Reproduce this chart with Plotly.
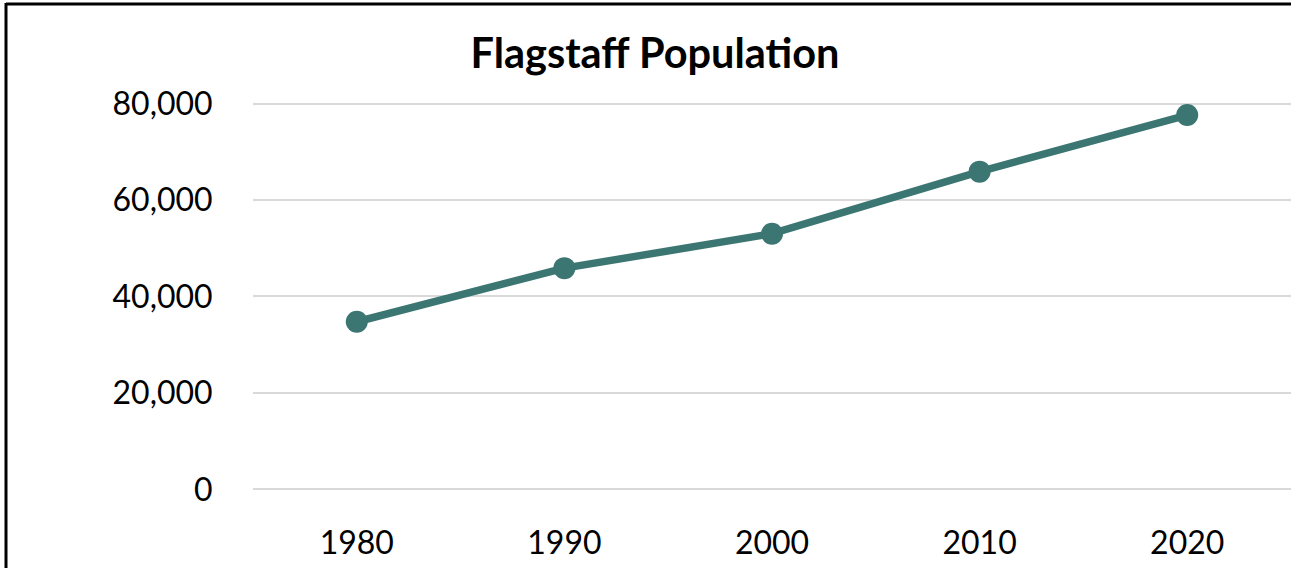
import plotly.graph_objects as go

# Flagstaff, AZ census population by decade
years = ["1980", "1990", "2000", "2010", "2020"]
population = [34743, 45857, 53000, 65870, 77600]
y_ticks = [0, 20000, 40000, 60000, 80000]
y_tick_labels = ["0", "20,000", "40,000", "60,000", "80,000"]

W, H = 1291, 568
ML, MR, MT, MB = 253, 0, 100, 75
pw = W - ML - MR
ph = H - MT - MB

line_color = "#3c7672"
font_family = "Lato, 'Open Sans', sans-serif"

fig = go.Figure(
    go.Scatter(
        x=years,
        y=population,
        mode="lines+markers",
        line=dict(color=line_color, width=7.5),
        marker=dict(color=line_color, size=22),
        cliponaxis=False,
        hoverinfo="x+y",
    )
)

# chart frame: left and top edges
fx = lambda px: (px - ML) / pw
fy = lambda py: (H - MB - py) / ph
fig.add_shape(type="line", xref="paper", yref="paper",
              x0=fx(6), x1=fx(6), y0=fy(3), y1=fy(H + 5),
              line=dict(color="black", width=3))
fig.add_shape(type="line", xref="paper", yref="paper",
              x0=fx(6), x1=fx(W + 5), y0=fy(4), y1=fy(4),
              line=dict(color="black", width=3))

per_px = 80000 / (489.3 - 103.5)
y_lo = -(H - MB - 489.3) * per_px
y_hi = 80000 + (103.5 - MT) * per_px

fig.update_layout(
    width=W,
    height=H,
    margin=dict(l=ML, r=MR, t=MT, b=MB),
    paper_bgcolor="white",
    plot_bgcolor="white",
    showlegend=False,
    font=dict(family=font_family, color="black", size=32),
    title=dict(
        text="<b>Flagstaff Population</b>",
        x=655 / W, xref="container", xanchor="center",
        y=1 - 53 / H, yref="container", yanchor="middle",
        font=dict(family=font_family, size=41.5, color="black"),
    ),
    xaxis=dict(
        type="category",
        range=[-0.5, 4.5],
        showgrid=False,
        showline=False,
        zeroline=False,
        ticks="outside",
        ticklen=22,
        tickcolor="rgba(0,0,0,0)",
        tickfont=dict(size=32),
    ),
    yaxis=dict(
        range=[y_lo, y_hi],
        tickvals=y_ticks,
        ticktext=y_tick_labels,
        showgrid=True,
        gridcolor="#d9d9d9",
        gridwidth=2,
        zeroline=False,
        showline=False,
        ticks="outside",
        ticklen=33,
        tickcolor="rgba(0,0,0,0)",
        tickfont=dict(size=32),
    ),
)

fig.write_html("out.html")
